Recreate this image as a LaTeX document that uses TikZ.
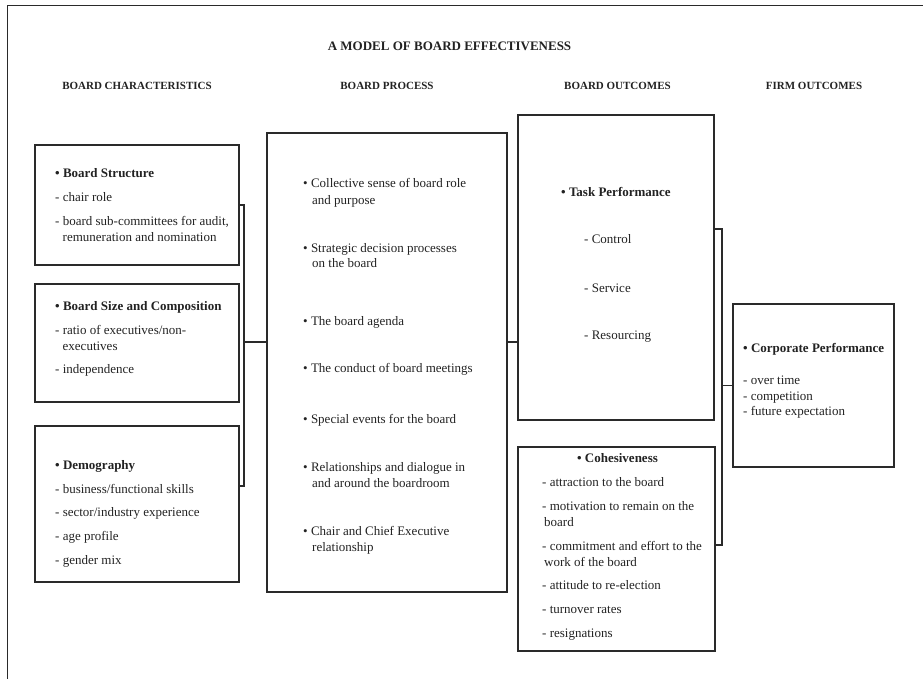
\documentclass[tikz,border=0pt]{standalone}
\usepackage{fontspec}
\setmainfont{Liberation Serif}
\definecolor{ink}{HTML}{222222}
\definecolor{rule}{HTML}{2A2A2A}
\begin{document}
\begin{tikzpicture}[x=1pt,y=-1pt,
  box/.style={draw=rule, line width=1.4pt, inner sep=0pt, outer sep=0pt, anchor=north west},
  link/.style={draw=rule, line width=1.3pt},
  frame/.style={draw=rule, line width=1pt},
  txt/.style={anchor=base west, inner sep=0pt, text=ink, font=\fontsize{13}{16}\selectfont},
  head/.style={txt, font=\fontsize{13}{16}\selectfont\bfseries},
  ctxt/.style={anchor=base, inner sep=0pt, text=ink},
  colhead/.style={ctxt, font=\fontsize{11}{13}\selectfont\bfseries},
  title/.style={ctxt, font=\fontsize{13}{16}\selectfont\bfseries},
]
\useasboundingbox (0,0) rectangle (923,679);

% page frame
\draw[frame] (923,6) -- (7,6) -- (7,679);

% titles
\node[title] (ttl) at (449.5,50.5) {A MODEL OF BOARD EFFECTIVENESS};
\node[colhead] (h1) at (137,90) {BOARD CHARACTERISTICS};
\node[colhead] (h2) at (387,90) {BOARD PROCESS};
\node[colhead] (h3) at (617.5,90) {BOARD OUTCOMES};
\node[colhead] (h4) at (814,90) {FIRM OUTCOMES};

% boxes
\node[box, minimum width=204pt, minimum height=120pt] (bs)   at (35,145)  {};
\node[box, minimum width=204pt, minimum height=118pt] (bsc)  at (35,284)  {};
\node[box, minimum width=204pt, minimum height=156pt] (demo) at (35,426)  {};
\node[box, minimum width=240pt, minimum height=459pt] (proc) at (267,133) {};
\node[box, minimum width=196pt, minimum height=305pt] (task) at (518,115) {};
\node[box, minimum width=197pt, minimum height=204pt] (coh)  at (518,447) {};
\node[box, minimum width=161pt, minimum height=163pt] (corp) at (733,304) {};

% board characteristics
\node[head] (bs0) at (55,177.5) {• Board Structure};
\node[txt] (bs1) at (55,201.5) {- chair role};
\node[txt] (bs2) at (55,225.5) {- board sub-committees for audit,};
\node[txt] (bs3) at (62.5,241.5) {remuneration and nomination};

\node[head] (bsc0) at (55,310.5) {• Board Size and Composition};
\node[txt] (bsc1) at (55,334.5) {- ratio of executives/non-};
\node[txt] (bsc2) at (62.5,350) {executives};
\node[txt] (bsc3) at (55,373.5) {- independence};

\node[head] (dm0) at (55,469.5) {• Demography};
\node[txt] (dm1) at (55,493.5) {- business/functional skills};
\node[txt] (dm2) at (55,516.5) {- sector/industry experience};
\node[txt] (dm3) at (55,540.5) {- age profile};
\node[txt] (dm4) at (55,564.5) {- gender mix};

% board process
\node[txt] (p1a) at (303,187.5) {• Collective sense of board role};
\node[txt] (p1b) at (312,204.5) {and purpose};
\node[txt] (p2a) at (303,252.5) {• Strategic decision processes};
\node[txt] (p2b) at (312,267.5) {on the board};
\node[txt] (p3)  at (303,325.5) {• The board agenda};
\node[txt] (p4)  at (303,372.5) {• The conduct of board meetings};
\node[txt] (p5)  at (303,423.5) {• Special events for the board};
\node[txt] (p6a) at (303,471.5) {• Relationships and dialogue in};
\node[txt] (p6b) at (312,487.5) {and around the boardroom};
\node[txt] (p7a) at (303,535.5) {• Chair and Chief Executive};
\node[txt] (p7b) at (312,551.5) {relationship};

% board outcomes
\node[head] (tp0) at (561,196.5) {• Task Performance};
\node[txt] (tp1) at (584,243.5) {- Control};
\node[txt] (tp2) at (584,292.5) {- Service};
\node[txt] (tp3) at (584,339.5) {- Resourcing};

\node[ctxt, font=\fontsize{13}{16}\selectfont\bfseries] (ch0) at (617.5,462.5) {• Cohesiveness};
\node[txt] (ch1)  at (542,486.5) {- attraction to the board};
\node[txt] (ch2a) at (542,510.5) {- motivation to remain on the};
\node[txt] (ch2b) at (544,526.5) {board};
\node[txt] (ch3a) at (542,550.5) {- commitment and effort to the};
\node[txt] (ch3b) at (544,566.5) {work of the board};
\node[txt] (ch4)  at (542,589.5) {- attitude to re-election};
\node[txt] (ch5)  at (542,613.5) {- turnover rates};
\node[txt] (ch6)  at (542,637.5) {- resignations};

% firm outcomes
\node[head] (cp0) at (743,352.5) {• Corporate Performance};
\node[txt] (cp1) at (743,384.5) {- over time};
\node[txt] (cp2) at (743,400) {- competition};
\node[txt] (cp3) at (743,415.5) {- future expectation};

% connectors
\coordinate (lbt) at (244,205);
\coordinate (lbb) at (244,486);
\coordinate (lbm) at (244,342);
\draw[link] (bs.east) -- (lbt) -- (lbb) -- (demo.east |- lbb);
\draw[link] (lbm) -- (proc.west |- lbm);
\draw[link] (proc.east |- lbm) -- (task.west |- lbm);

\coordinate (rbt) at (722,229);
\coordinate (rbb) at (722,545);
\draw[link] (task.east |- rbt) -- (rbt) -- (rbb) -- (coh.east |- rbb);
\draw[link] (rbt |- corp.west) -- (corp.west);
\end{tikzpicture}
\end{document}
